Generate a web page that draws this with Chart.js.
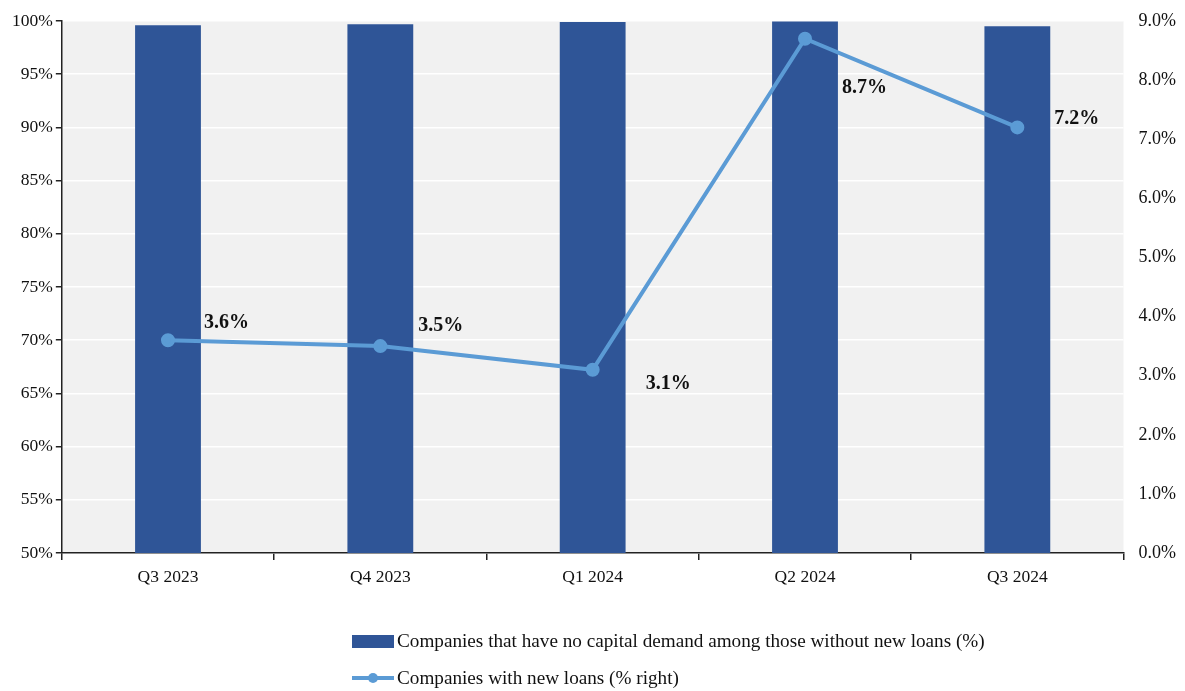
<!DOCTYPE html>
<html>
<head>
<meta charset="utf-8">
<script src="https://cdn.jsdelivr.net/npm/chart.js@4"></script>
<style>
  body { margin: 0; background: #fff; }
  #wrap { position: relative; width: 1185px; height: 691px; }
  #legend { position: absolute; left: 352px; top: 628px; font-family: 'Liberation Serif', 'Times New Roman', serif; font-size: 19.2px; color: #111; }
  .item { display: flex; align-items: center; height: 26px; margin-bottom: 11px; }
  .sw { width: 42px; height: 14px; margin-right: 3px; position: relative; }
  .sw.bar { background: #2f5597; height: 13px; }
  .sw.line::before { content: ''; position: absolute; left: 0; right: 0; top: 5px; height: 4px; background: #5b9bd5; }
  .sw.line::after { content: ''; position: absolute; left: 16px; top: 2px; width: 10px; height: 10px; border-radius: 50%; background: #5b9bd5; }
</style>
</head>
<body>
<div id="wrap">
  <canvas id="chartLoans" width="1185" height="691"></canvas>
  <div id="legend"></div>
</div>
<script>
const quarters = ['Q3 2023', 'Q4 2023', 'Q1 2024', 'Q2 2024', 'Q3 2024'];
const noDemand = [99.6, 99.7, 99.9, 99.95, 99.5];
const newLoans = [3.6, 3.5, 3.1, 8.7, 7.2];

const seriesNames = [
  'Companies that have no capital demand among those without new loans (%)',
  'Companies with new loans (% right)'
];

const serif = "'Liberation Serif', 'Times New Roman', serif";

// where each value label sits relative to its point
const labelShift = [[36, -17], [38, -20], [53, 14], [37, 49], [37, -9]];

const plotBackground = {
  id: 'plotBackground',
  beforeDraw(chart) {
    const { ctx, chartArea: a } = chart;
    ctx.save();
    ctx.fillStyle = '#f1f1f1';
    ctx.fillRect(a.left, a.top, a.right - a.left, a.bottom - a.top);
    ctx.restore();
  }
};

const pointLabels = {
  id: 'pointLabels',
  afterDatasetsDraw(chart) {
    const { ctx } = chart;
    const meta = chart.getDatasetMeta(1);
    ctx.save();
    ctx.font = 'bold 20px ' + serif;
    ctx.fillStyle = '#111';
    ctx.textAlign = 'left';
    ctx.textBaseline = 'middle';
    meta.data.forEach((pt, i) => {
      ctx.fillText(newLoans[i].toFixed(1) + '%', pt.x + labelShift[i][0], pt.y + labelShift[i][1]);
    });
    ctx.restore();
  }
};

Chart.defaults.font.family = serif;
Chart.defaults.font.size = 17.5;
Chart.defaults.color = '#111';

new Chart(document.getElementById('chartLoans'), {
  type: 'bar',
  data: {
    labels: quarters,
    datasets: [
      {
        label: seriesNames[0],
        data: noDemand,
        backgroundColor: '#2f5597',
        barPercentage: 0.31,
        categoryPercentage: 1,
        yAxisID: 'y',
        order: 1
      },
      {
        type: 'line',
        label: seriesNames[1],
        data: newLoans,
        borderColor: '#5b9bd5',
        backgroundColor: '#5b9bd5',
        borderWidth: 4,
        pointRadius: 5,
        pointHoverRadius: 5,
        tension: 0,
        yAxisID: 'y1',
        order: 0
      }
    ]
  },
  options: {
    responsive: false,
    animation: false,
    layout: { padding: { top: 21, left: 9, right: 2, bottom: 96 } },
    scales: {
      x: {
        grid: { offset: true, drawOnChartArea: false, tickColor: '#222', tickLength: 7, lineWidth: 1.5 },
        border: { color: '#222', width: 1.5 },
        ticks: { padding: 7 }
      },
      y: {
        position: 'left',
        min: 50,
        max: 100,
        grid: { color: '#ffffff', lineWidth: 1.5, tickColor: '#222', tickLength: 6 },
        border: { color: '#222', width: 1.5 },
        ticks: { stepSize: 5, padding: 3, callback: v => v + '%' }
      },
      y1: {
        position: 'right',
        min: 0,
        max: 9,
        grid: { display: false },
        border: { display: false },
        ticks: { stepSize: 1, padding: 7, font: { size: 18 }, callback: v => v.toFixed(1) + '%' }
      }
    },
    plugins: {
      legend: { display: false },
      tooltip: {
        callbacks: {
          label: ctx => `${ctx.dataset.label}: ${ctx.parsed.y}%`
        }
      }
    }
  },
  plugins: [plotBackground, pointLabels]
});

// legend below the plot, one row per series
const legendBox = document.getElementById('legend');
['bar', 'line'].forEach((kind, i) => {
  const row = document.createElement('div');
  row.className = 'item';
  row.innerHTML = `<span class="sw ${kind}"></span><span>${seriesNames[i]}</span>`;
  legendBox.appendChild(row);
});
</script>
</body>
</html>
